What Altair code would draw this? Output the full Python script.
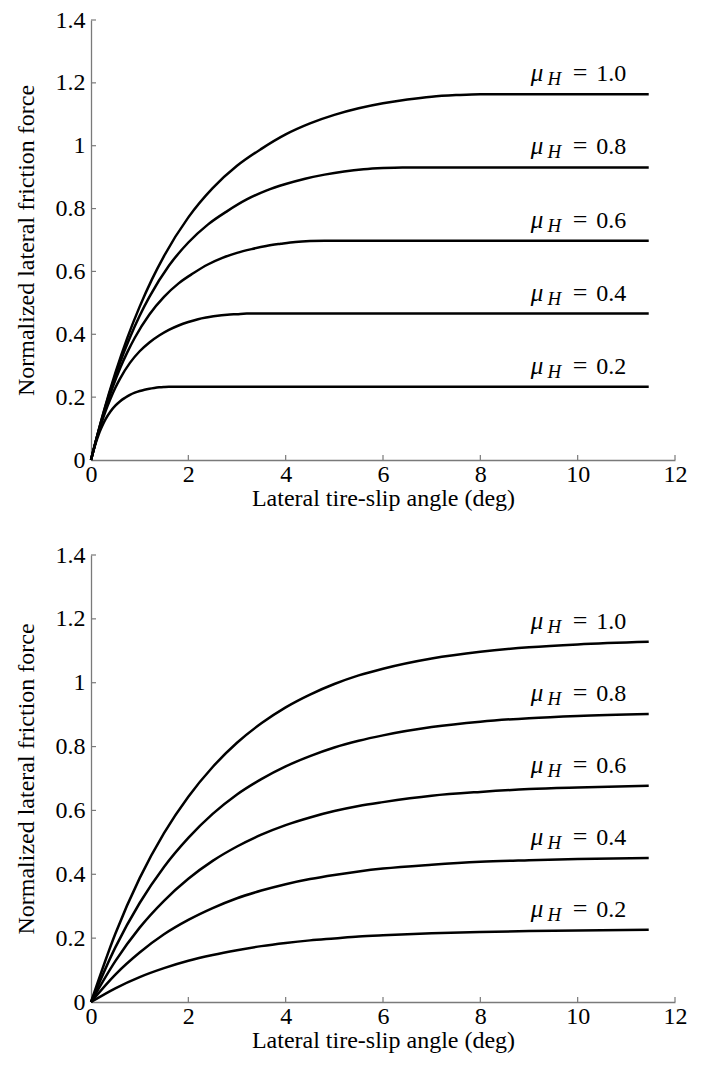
import altair as alt
import pandas as pd

# ---------------- data ----------------
mu_names = ["1.0", "0.8", "0.6", "0.4", "0.2"]

# Top panel (curves saturate sharply)
top_x_10 = [0, 0.25, 0.5, 0.75, 1, 1.25, 1.5, 2, 2.5, 3, 3.5, 4, 4.5, 5, 5.5, 6, 6.5, 7, 7.5, 8, 11.46]
top_y_10 = [0, 0.148, 0.277, 0.39, 0.488, 0.574, 0.649, 0.772, 0.865, 0.936, 0.99, 1.036, 1.071, 1.098, 1.119, 1.135, 1.147, 1.156, 1.161, 1.164, 1.164]
top_x_08 = [0, 0.2, 0.4, 0.6, 0.8, 1.0, 1.2, 1.6, 2.0, 2.4, 2.8, 3.2, 3.6, 4.0, 4.4, 4.8, 5.2, 5.6, 6.0, 6.4, 11.46]
top_y_08 = [0, 0.118, 0.222, 0.312, 0.39, 0.459, 0.519, 0.618, 0.692, 0.749, 0.792, 0.829, 0.857, 0.878, 0.895, 0.908, 0.918, 0.925, 0.929, 0.931, 0.931]
top_x_06 = [0, 0.15, 0.3, 0.45, 0.6, 0.75, 0.9, 1.2, 1.5, 1.8, 2.1, 2.4, 2.7, 3.0, 3.3, 3.6, 3.9, 4.2, 4.5, 4.8, 11.46]
top_y_06 = [0, 0.089, 0.166, 0.234, 0.293, 0.344, 0.389, 0.463, 0.519, 0.562, 0.594, 0.622, 0.643, 0.659, 0.671, 0.681, 0.688, 0.694, 0.697, 0.698, 0.698]
top_x_04 = [0, 0.1, 0.2, 0.3, 0.4, 0.5, 0.6, 0.8, 1.0, 1.2, 1.4, 1.6, 1.8, 2.0, 2.2, 2.4, 2.6, 2.8, 3.0, 3.2, 11.46]
top_y_04 = [0, 0.059, 0.111, 0.156, 0.195, 0.23, 0.26, 0.309, 0.346, 0.374, 0.396, 0.414, 0.428, 0.439, 0.448, 0.454, 0.459, 0.462, 0.464, 0.466, 0.466]
top_x_02 = [0, 0.05, 0.1, 0.15, 0.2, 0.25, 0.3, 0.4, 0.5, 0.6, 0.7, 0.8, 0.9, 1.0, 1.1, 1.2, 1.3, 1.4, 1.5, 1.6, 11.46]
top_y_02 = [0, 0.0296, 0.0554, 0.078, 0.0976, 0.1148, 0.1298, 0.1544, 0.173, 0.1872, 0.198, 0.2072, 0.2142, 0.2196, 0.2238, 0.227, 0.2294, 0.2312, 0.2322, 0.2328, 0.2328]

# Bottom panel (curves approach their limit gradually)
bot_x = [0, 0.5, 1, 1.5, 2, 2.5, 3, 3.5, 4, 4.5, 5, 5.5, 6, 7, 8, 9, 10, 11.46]
bot_y_10 = [0, 0.214, 0.388, 0.529, 0.643, 0.736, 0.812, 0.873, 0.923, 0.963, 0.996, 1.023, 1.044, 1.076, 1.097, 1.111, 1.12, 1.128]
bot_y_08 = [0, 0.171, 0.31, 0.423, 0.514, 0.589, 0.65, 0.698, 0.738, 0.77, 0.797, 0.818, 0.835, 0.861, 0.878, 0.889, 0.896, 0.902]
bot_y_06 = [0, 0.128, 0.233, 0.317, 0.386, 0.442, 0.487, 0.524, 0.554, 0.578, 0.598, 0.614, 0.626, 0.646, 0.658, 0.667, 0.672, 0.677]
bot_y_04 = [0, 0.086, 0.155, 0.212, 0.257, 0.294, 0.325, 0.349, 0.369, 0.385, 0.398, 0.409, 0.418, 0.43, 0.439, 0.444, 0.448, 0.451]
bot_y_02 = [0, 0.043, 0.078, 0.106, 0.129, 0.147, 0.162, 0.175, 0.185, 0.193, 0.199, 0.205, 0.209, 0.215, 0.219, 0.222, 0.224, 0.226]

x_ticks = [0, 2, 4, 6, 8, 10, 12]
y_ticks = [0, 0.2, 0.4, 0.6, 0.8, 1.0, 1.2, 1.4]
x_title = "Lateral tire-slip angle (deg)"
y_title = "Normalized lateral friction force"
label_x = 11.0

# ---------------- build tables ----------------
top_series = [(top_x_10, top_y_10), (top_x_08, top_y_08), (top_x_06, top_y_06),
              (top_x_04, top_y_04), (top_x_02, top_y_02)]
bot_series = [(bot_x, bot_y_10), (bot_x, bot_y_08), (bot_x, bot_y_06),
              (bot_x, bot_y_04), (bot_x, bot_y_02)]


def long_table(series):
    rows = []
    for name, (xs_, ys_) in zip(mu_names, series):
        for i, (a, b) in enumerate(zip(xs_, ys_)):
            rows.append({"mu": name, "x": a, "y": b, "i": i})
    return pd.DataFrame(rows)


def label_table(series):
    return pd.DataFrame([{"mu": n, "lx": label_x, "ly": ys_[-1], "num": n}
                         for n, (xs_, ys_) in zip(mu_names, series)])


FONT = "Liberation Serif, Times New Roman, Times, DejaVu Serif, serif"
GRAY = "#7a7a7a"
W = 584
FS = 24

xs = alt.Scale(domain=[0, 12], nice=False, zero=False)
ys = alt.Scale(domain=[0, 1.4], nice=False)

x_axis = alt.Axis(values=x_ticks, title=x_title, grid=False, ticks=False,
                  domainColor=GRAY, domainWidth=1.3, labelPadding=2,
                  labelFont=FONT, labelFontSize=FS, labelColor="black",
                  titleFont=FONT, titleFontSize=FS, titleFontWeight="normal",
                  titleColor="black", titlePadding=0, labelFlush=False)
y_axis = alt.Axis(values=y_ticks, title=y_title, grid=False, ticks=False,
                  domainColor=GRAY, domainWidth=1.3, labelPadding=6,
                  labelExpr="format(datum.value, '~g')",
                  labelFont=FONT, labelFontSize=FS, labelColor="black",
                  titleFont=FONT, titleFontSize=FS, titleFontWeight="normal",
                  titleColor="black", titlePadding=17, labelFlush=False)


def panel(series, H):
    df = long_table(series)
    lab = label_table(series)
    lines = alt.Chart(df).mark_line(color="black", strokeWidth=2.5,
                                    interpolate="monotone").encode(
        x=alt.X("x:Q", scale=xs, axis=x_axis, title=x_title),
        y=alt.Y("y:Q", scale=ys, axis=y_axis, title=y_title),
        detail="mu:N", order="i:Q")
    xt = alt.Chart(pd.DataFrame({"t": x_ticks[1:]})).mark_rule(
        color=GRAY, strokeWidth=1.2).encode(
        x=alt.X("t:Q", scale=xs, axis=x_axis, title=x_title),
        y=alt.value(H), y2=alt.value(H - 5))
    yt = alt.Chart(pd.DataFrame({"t": y_ticks[1:]})).mark_rule(
        color=GRAY, strokeWidth=1.2).encode(
        y=alt.Y("t:Q", scale=ys, axis=y_axis, title=y_title),
        x=alt.value(0), x2=alt.value(5))
    enc = dict(x=alt.X("lx:Q", scale=xs, axis=x_axis, title=x_title),
               y=alt.Y("ly:Q", scale=ys, axis=y_axis, title=y_title))
    t_num = alt.Chart(lab).mark_text(align="right", baseline="alphabetic",
                                     dy=-13, font=FONT, fontSize=FS,
                                     color="black").encode(text="num:N", **enc)
    t_eq = alt.Chart(lab).mark_text(align="right", baseline="alphabetic",
                                    dx=-39, dy=-13, font=FONT, fontSize=FS + 2,
                                    color="black").encode(text=alt.value("="), **enc)
    t_h = alt.Chart(lab).mark_text(align="right", baseline="alphabetic",
                                   dx=-65, dy=-9, font=FONT, fontSize=19,
                                   fontStyle="italic",
                                   color="black").encode(text=alt.value("H"), **enc)
    t_mu = alt.Chart(lab).mark_text(align="right", baseline="alphabetic",
                                    dx=-83, dy=-13, font=FONT, fontSize=25,
                                    fontStyle="italic",
                                    color="black").encode(text=alt.value("μ"), **enc)
    return alt.layer(lines, xt, yt, t_num, t_eq, t_h, t_mu).properties(width=W, height=H)


chart = alt.vconcat(panel(top_series, 440), panel(bot_series, 447), spacing=33).properties(
    padding={"left": 6, "top": 0, "right": 5, "bottom": 5}
).configure_view(stroke=None)

chart.save("out.html", embed_options={"renderer": "svg", "actions": False})
